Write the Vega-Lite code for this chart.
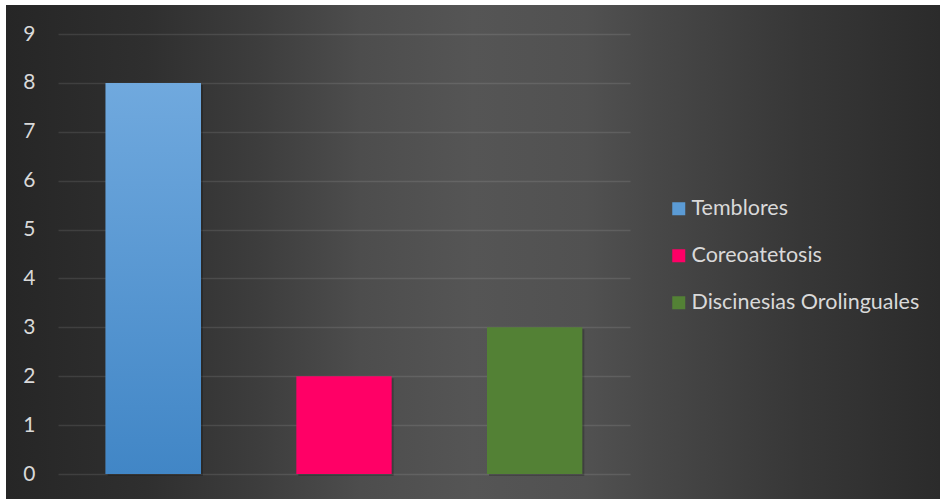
{
  "$schema": "https://vega.github.io/schema/vega-lite/v6.json",
  "autosize": {"type": "none"},
  "padding": {"left": 6, "top": 5, "right": 0, "bottom": 0},
  "width": 934,
  "height": 494,
  "background": "#ffffff",
  "view": {
    "stroke": null,
    "fill": {
      "gradient": "linear",
      "x1": 0, "y1": 0.5, "x2": 1, "y2": 0.5,
      "stops": [
        {"offset": 0, "color": "#262626"},
        {"offset": 0.15, "color": "#2f2f2f"},
        {"offset": 0.27, "color": "#3d3d3d"},
        {"offset": 0.38, "color": "#4d4d4d"},
        {"offset": 0.5, "color": "#555555"},
        {"offset": 0.62, "color": "#515151"},
        {"offset": 0.69, "color": "#484848"},
        {"offset": 0.85, "color": "#373737"},
        {"offset": 1, "color": "#2b2b2b"}
      ]
    }
  },
  "data": {
    "values": [
      {"categoria": "Temblores", "valor": 8},
      {"categoria": "Coreoatetosis", "valor": 2},
      {"categoria": "Discinesias Orolinguales", "valor": 3}
    ]
  },
  "encoding": {
    "x": {
      "field": "categoria",
      "type": "nominal",
      "sort": null,
      "scale": {"range": [52, 624], "paddingInner": 0.5, "paddingOuter": 0.25},
      "axis": null
    },
    "y": {
      "field": "valor",
      "type": "quantitative",
      "scale": {"domain": [0, 9], "range": [469, 29], "nice": false, "zero": true},
      "axis": {
        "title": null,
        "values": [0, 1, 2, 3, 4, 5, 6, 7, 8, 9],
        "offset": -29,
        "domain": false,
        "ticks": false,
        "labelPadding": 0,
        "labelFont": "Lato",
        "labelFontSize": 21,
        "labelColor": "#d9d9d9",
        "grid": true,
        "gridColor": "#ffffff",
        "gridOpacity": 0.1,
        "gridWidth": 1.5
      }
    }
  },
  "layer": [
    {
      "mark": {"type": "bar", "fill": "#000000", "opacity": 0.22, "xOffset": 2, "yOffset": 2},
      "encoding": {}
    },
    {
      "mark": {"type": "bar"},
      "encoding": {
        "color": {
          "field": "categoria",
          "type": "nominal",
          "sort": null,
          "scale": {
            "domain": ["Temblores", "Coreoatetosis", "Discinesias Orolinguales"],
            "range": ["#5B9BD5", "#FF0066", "#538135"]
          },
          "legend": {
            "title": null,
            "orient": "none",
            "legendX": 662,
            "legendY": 193,
            "padding": 0,
            "symbolType": "square",
            "symbolSize": 169,
            "symbolStrokeWidth": 0,
            "symbolOpacity": 1,
            "labelFont": "Lato",
            "labelFontSize": 21.5,
            "labelColor": "#d9d9d9",
            "labelOffset": 2,
            "rowPadding": 24,
            "labelLimit": 400
          }
        }
      }
    },
    {
      "transform": [{"filter": "datum.categoria === 'Temblores'"}],
      "mark": {
        "type": "bar",
        "fill": {
          "gradient": "linear",
          "x1": 0, "y1": 0, "x2": 0, "y2": 1,
          "stops": [
            {"offset": 0, "color": "#70A9DE"},
            {"offset": 1, "color": "#4186C6"}
          ]
        }
      }
    }
  ]
}
